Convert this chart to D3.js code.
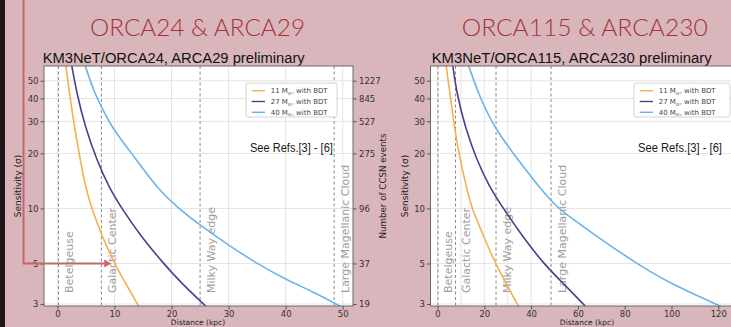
<!DOCTYPE html>
<html><head><meta charset="utf-8">
<script src="https://cdn.jsdelivr.net/npm/d3@7"></script>
<style>body{margin:0;background:#d9b6bb;overflow:hidden}svg{display:block}</style>
</head><body><svg id="c" width="731" height="327"></svg>
<script>
// ---------- data ----------
const massLabels = ["11", "27", "40"];
const seriesColors = ["#f3b14e", "#4b3f8c", "#68b5ec"];
const yTicks = [3, 5, 10, 20, 30, 40, 50];
const eventLabels = ["19", "37", "96", "275", "527", "845", "1227"];
const landmarkNames = ["Betelgeuse", "Galactic Center", "Milky Way edge", "Large Magellanic Cloud"];
const landmarkDist = [0.2, 7.7, 25, 48.5];
const leftXTicks = [0, 10, 20, 30, 40, 50];
const rightXTicks = [0, 20, 40, 60, 80, 100, 120];
const leftGrid = [0, 10, 20, 30, 40, 50];
const rightGrid = [0, 10, 20, 30, 40];
// [distance kpc, sensitivity sigma]
const left11 = [[1.45,62],[2.1,42.6],[3.0,28],[4.0,18.4],[4.95,13.0],[6.0,10],[7.8,7.14],[9.9,5.0],[14.3,2.9]];
const left27 = [[2.45,62],[3.4,42.6],[4.85,28],[6.9,18.4],[9.0,13.1],[11.28,10],[14.49,7.14],[18.57,5.0],[22.07,3.8],[26.1,2.9]];
const left40 = [[4.75,62],[6.5,42.6],[7.88,35.3],[9.4,28],[13.9,18.4],[17.5,12.9],[21.2,10],[25.0,8.1],[29.96,6.3],[34.93,5.0],[40.19,4.05],[44.85,3.5],[49.9,2.88]];
const right11 = [[3.55,62],[5.34,42.6],[7.18,28],[9.62,18.4],[12.48,12.9],[14.62,10],[19.57,7.14],[24.57,5],[34.7,2.9]];
const right27 = [[6.4,62],[8.21,42.6],[11.75,28],[16.75,18.4],[22.2,13.1],[28.12,10],[35.98,7.14],[45.21,5],[54.49,3.8],[63.4,2.9]];
const right40 = [[13.0,62],[17.4,42.6],[23.9,28],[34.5,18.4],[43.8,12.9],[51.6,10],[56.6,9.0],[70.9,6.62],[85.1,5.0],[99.4,3.89],[113.6,3.22],[121.8,2.88]];

const svg = d3.select("#c");
const FONT = "DejaVu Sans, sans-serif";

// slide decoration
svg.append("rect").attr("x",0).attr("y",0).attr("width",731).attr("height",327).attr("fill","#d9b6bb");
svg.append("rect").attr("x",0).attr("y",0).attr("width",5).attr("height",327).attr("fill","#201418");

const yScale = d3.scaleLog().domain([2.925, 60.2]).range([306, 66]);

function panel(o, idx) {
  const x = d3.scaleLinear().domain(o.xDom).range([o.x0, o.x1]);
  const y = yScale;
  const g = svg.append("g");
  const top = 66, bot = 306;
  // title + subtitle
  g.append("text").attr("x", o.titleX).attr("y", 36).text(o.title)
    .attr("font-family","Lato, 'Open Sans', sans-serif").attr("font-size",23).attr("font-weight",300).attr("fill","#a5323a")
    .attr("textLength", o.titleW).attr("lengthAdjust","spacingAndGlyphs");
  g.append("text").attr("x", o.subX).attr("y", 63).text(o.subtitle)
    .attr("font-family","'Liberation Sans', Arial, sans-serif").attr("font-size",14).attr("fill","#111")
    .attr("textLength", o.subW).attr("lengthAdjust","spacingAndGlyphs");
  // plot background
  g.append("rect").attr("x",o.x0).attr("y",top).attr("width",o.x1-o.x0).attr("height",bot-top).attr("fill","#fff");
  // grid
  g.selectAll(".vg").data(o.grid).join("line")
    .attr("x1",d=>x(d)).attr("x2",d=>x(d)).attr("y1",top).attr("y2",bot)
    .attr("stroke","#e4e4e4").attr("stroke-width",1);
  g.selectAll(".hg").data(yTicks).join("line")
    .attr("x1",o.x0).attr("x2",o.x1).attr("y1",d=>y(d)).attr("y2",d=>y(d))
    .attr("stroke","#e4e4e4").attr("stroke-width",1);
  // landmark dashed lines
  g.selectAll(".lm").data(landmarkDist).join("line")
    .attr("x1",d=>x(d)).attr("x2",d=>x(d)).attr("y1",top).attr("y2",bot)
    .attr("stroke","#8a8a8a").attr("stroke-width",1).attr("stroke-dasharray","3,2.5");
  g.selectAll(".lmt").data(landmarkNames).join("text")
    .attr("transform",(d,i)=>`translate(${x(landmarkDist[i])+14.5},293) rotate(-90)`)
    .text(d=>d).attr("font-family",FONT).attr("font-size",11).attr("fill","#9d9d9d");
  // curves
  const clipId = "clip"+idx;
  svg.append("clipPath").attr("id",clipId).append("rect")
    .attr("x",o.x0).attr("y",top).attr("width",o.x1-o.x0).attr("height",bot-top);
  const line = d3.line().x(d=>x(d[0])).y(d=>y(d[1])).curve(d3.curveBasis);
  const cg = g.append("g").attr("clip-path",`url(#${clipId})`);
  o.series.forEach((s,i)=>{
    cg.append("path").attr("d",line(s)).attr("fill","none").attr("stroke",seriesColors[i]).attr("stroke-width",1.6);
  });
  // spines
  g.append("rect").attr("x",o.x0).attr("y",top).attr("width",o.x1-o.x0).attr("height",bot-top)
    .attr("fill","none").attr("stroke","#6a6a6a").attr("stroke-width",1);
  // axes
  const ax = g.append("g").attr("transform",`translate(0,${bot})`)
    .call(d3.axisBottom(x).tickValues(o.xTicks).tickSize(3.5).tickSizeOuter(0).tickPadding(1));
  ax.select(".domain").remove();
  ax.selectAll("line").attr("stroke","#555");
  ax.selectAll("text").attr("font-family",FONT).attr("font-size",8.5).attr("fill","#333");
  const ay = g.append("g").attr("transform",`translate(${o.x0},0)`)
    .call(d3.axisLeft(y).tickValues(yTicks).tickFormat(d3.format("d")).tickSize(3.5).tickSizeOuter(0).tickPadding(2));
  ay.select(".domain").remove();
  ay.selectAll("line").attr("stroke","#555");
  ay.selectAll("text").attr("font-family",FONT).attr("font-size",8.5).attr("fill","#333");
  if (o.rightAxis) {
    const ar = g.append("g").attr("transform",`translate(${o.x1},0)`)
      .call(d3.axisRight(y).tickValues(yTicks).tickFormat((d,i)=>eventLabels[i]).tickSize(3.5).tickSizeOuter(0).tickPadding(2.5));
    ar.select(".domain").remove();
    ar.selectAll("line").attr("stroke","#555");
    ar.selectAll("text").attr("font-family",FONT).attr("font-size",8.5).attr("fill","#333");
    g.append("text").attr("transform",`translate(385.5,186) rotate(-90)`).attr("text-anchor","middle")
      .text("Number of CCSN events").attr("font-family",FONT).attr("font-size",8.7).attr("fill","#222");
  }
  g.append("text").attr("transform",`translate(${o.yLabelX},186) rotate(-90)`).attr("text-anchor","middle")
    .text("Sensitivity (σ)").attr("font-family",FONT).attr("font-size",9).attr("fill","#222");
  g.append("text").attr("x",o.xLabelX).attr("y",325.3).attr("text-anchor","middle")
    .text("Distance (kpc)").attr("font-family",FONT).attr("font-size",7.5).attr("fill","#222");
  // legend
  const lg = g.append("g").attr("transform",`translate(${o.legX},83)`);
  lg.append("rect").attr("width",o.legW).attr("height",34).attr("rx",2).attr("fill","#fff").attr("stroke","#d4d4d4");
  massLabels.forEach((m,i)=>{
    const yy = 7.7 + i*10.8;
    lg.append("line").attr("x1",5.7).attr("x2",19).attr("y1",yy).attr("y2",yy).attr("stroke",seriesColors[i]).attr("stroke-width",1.4);
    const t = lg.append("text").attr("x",24.7).attr("y",yy+2.5).attr("font-family",FONT).attr("font-size",7).attr("fill","#444");
    t.append("tspan").text(m+" M");
    t.append("tspan").text("⊙").attr("font-size",4.5).attr("dy",1.5);
    t.append("tspan").text(", with BDT").attr("dy",-1.5);
  });
  // refs note (condensed via horizontal scale)
  const rt = g.append("text").attr("x",0).attr("y",0).text("See Refs.[3] - [6]")
    .attr("font-family","'Liberation Sans', Arial, sans-serif").attr("font-size",13).attr("fill","#1a1a1a");
  const rw = rt.node().getComputedTextLength();
  rt.attr("transform",`translate(${o.refX},152) scale(${o.refW/rw},1)`);
  return x;
}

const xL = panel({x0:44, x1:353, xDom:[-2.35,51.8], xTicks:leftXTicks, grid:leftGrid,
  series:[left11,left27,left40], title:"ORCA24 & ARCA29", titleX:90, titleW:215,
  subtitle:"KM3NeT/ORCA24, ARCA29 preliminary", subX:42.7, subW:262,
  legX:246, legW:91, refX:250, refW:83, rightAxis:true, yLabelX:21, xLabelX:198}, 0);

panel({x0:430.5, x1:741.7, xDom:[-3,130], xTicks:rightXTicks, grid:rightGrid,
  series:[right11,right27,right40], title:"ORCA115 & ARCA230", titleX:461.7, titleW:246,
  subtitle:"KM3NeT/ORCA115, ARCA230 preliminary", subX:431.7, subW:280,
  legX:634, legW:96, refX:638, refW:84, rightAxis:false, yLabelX:408, xLabelX:587}, 1);

// annotation arrow pointing to 5 sigma at the Galactic Center
const ay5 = yScale(5);
svg.append("path").attr("d",`M23.5,0 V${ay5} H${xL(8.2)}`).attr("fill","none")
  .attr("stroke","#c4676a").attr("stroke-width",2);
svg.append("path").attr("d",`M${xL(8.2)},${ay5-4} L${xL(9.4)},${ay5} L${xL(8.2)},${ay5+4} Z`).attr("fill","#c4676a");
</script></body></html>
